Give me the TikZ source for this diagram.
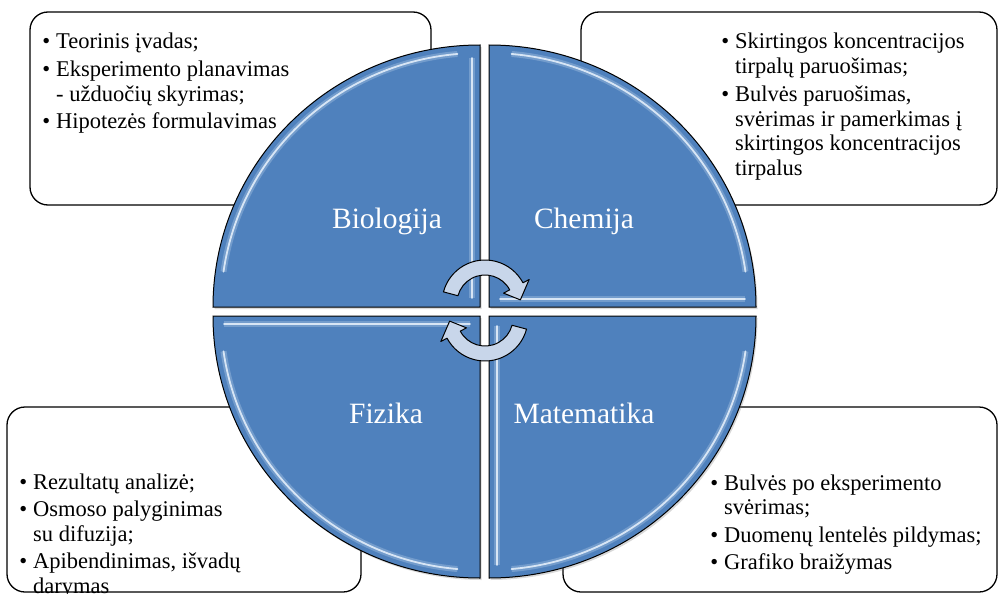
\documentclass[tikz,border=0pt]{standalone}
\usepackage{fontspec}
\setmainfont{Liberation Serif}
\usetikzlibrary{shadows}
\definecolor{CycleBlue}{HTML}{4F81BD}
\definecolor{CycleGlow}{HTML}{E2EEFA}
\definecolor{CycleArrow}{HTML}{C8D6EA}
\newcommand{\bul}{\llap{\textbullet\hspace{6pt}}}
\newcommand{\notelines}[1]{\begin{tabular}[t]{@{}l@{}}#1\end{tabular}}

\begin{document}
\begin{tikzpicture}[
  x=1pt, y=-1pt,
  notebox/.style={draw=black, line width=1.3pt, rounded corners=18pt, fill=white},
  notes/.style={anchor=base west, inner sep=0pt, font=\fontsize{22.5}{24.5}\selectfont},
  quarter/.style={fill=CycleBlue, draw=black, line width=1pt, drop shadow={shadow xshift=1.5pt, shadow yshift=-2pt, opacity=0.25, fill=black!60}},
  glow/.style={draw=CycleGlow, line width=1.8pt, draw opacity=0.9, line cap=round, preaction={draw=CycleGlow, line width=6pt, draw opacity=0.25}},
  subject/.style={anchor=base, text=white, inner sep=0pt, font=\fontsize{29.5}{32}\selectfont},
  turn/.style={fill=CycleArrow, draw=black, line width=1pt, line join=round}
]
\useasboundingbox (0,0) rectangle (999,594);

\draw[notebox] (30,12) rectangle (431,205);
\draw[notebox] (581,12) rectangle (997,205);
\draw[notebox] (7,407) rectangle (361,592);
\draw[notebox] (563,407) rectangle (997,592);

\node[notes] (biotxt) at (56,49) {\notelines{\bul Teorinis įvadas;\\[3pt]
  \bul Eksperimento planavimas\\
  - užduočių skyrimas;\\[3pt]
  \bul Hipotezės formulavimas}};
\node[notes] (chemtxt) at (735,49) {\notelines{\bul Skirtingos koncentracijos\\
  tirpalų paruošimas;\\[4pt]
  \bul Bulvės paruošimas,\\
  svėrimas ir pamerkimas į\\
  skirtingos koncentracijos\\
  tirpalus}};
\node[notes] (fiztxt) at (33,489) {\notelines{\bul Rezultatų analizė;\\[3pt]
  \bul Osmoso palyginimas\\
  su difuzija;\\[3pt]
  \bul Apibendinimas, išvadų\\
  darymas}};
\node[notes] (mattxt) at (724,490) {\notelines{\bul Bulvės po eksperimento\\
  svėrimas;\\[3pt]
  \bul Duomenų lentelės pildymas;\\[3pt]
  \bul Grafiko braižymas}};

\path[quarter] (480,307) -- (480,45) arc[start angle=-90, end angle=-180, x radius=267, y radius=262] -- cycle;
\path[quarter] (489,307) -- (489,45) arc[start angle=-90, end angle=0, x radius=267, y radius=262] -- cycle;
\path[quarter] (480,316) -- (213,316) arc[start angle=180, end angle=90, x radius=267, y radius=262] -- cycle;
\path[quarter] (489,316) -- (756,316) arc[start angle=0, end angle=90, x radius=267, y radius=262] -- cycle;

\draw[glow, shift={(480,307)}] (-95:259 and 254) arc[start angle=-95, end angle=-172, x radius=259, y radius=254];
\draw[glow] (472,58) -- (472,298);
\draw[glow, shift={(489,307)}] (-85:259 and 254) arc[start angle=-85, end angle=-8, x radius=259, y radius=254];
\draw[glow] (500,299) -- (745,299);
\draw[glow, shift={(480,316)}] (172:259 and 254) arc[start angle=172, end angle=95, x radius=259, y radius=254];
\draw[glow] (224,324) -- (470,324);
\draw[glow, shift={(489,316)}] (8:259 and 254) arc[start angle=8, end angle=85, x radius=259, y radius=254];
\draw[glow] (497,326) -- (497,565);

\node[subject] (bio) at (387,228) {Biologija};
\node[subject] (chem) at (584,228) {Chemija};
\node[subject] (fiz) at (386,423) {Fizika};
\node[subject] (mat) at (584,423) {Matematika};

\begin{scope}[shift={(485,303)}]
  \path[turn] (-165:43) arc[start angle=-165, end angle=-28, radius=43] -- (-28:50) -- (-5:35.5) -- (-28:21) -- (-28:28) arc[start angle=-28, end angle=-165, radius=28] -- cycle;
\end{scope}
\begin{scope}[shift={(485,318)}, rotate=180]
  \path[turn] (-165:43) arc[start angle=-165, end angle=-28, radius=43] -- (-28:50) -- (-5:35.5) -- (-28:21) -- (-28:28) arc[start angle=-28, end angle=-165, radius=28] -- cycle;
\end{scope}
\end{tikzpicture}
\end{document}
